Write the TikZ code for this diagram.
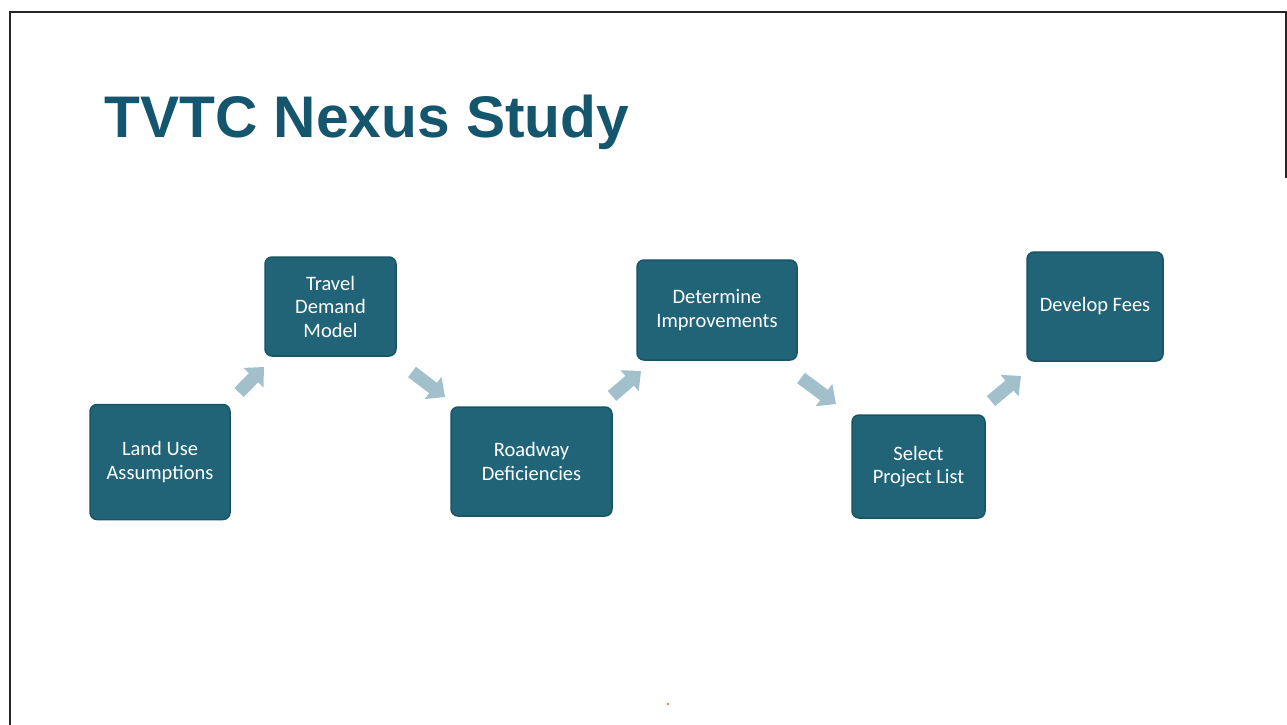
\documentclass[tikz,border=0pt]{standalone}
\usepackage{fontspec}
\setmainfont{Liberation Sans}
\newfontfamily\boxfont{Carlito}
\usetikzlibrary{arrows.meta,calc}
\definecolor{titleblue}{HTML}{14566E}
\definecolor{boxfill}{HTML}{216478}
\definecolor{boxedge}{HTML}{1A5366}
\definecolor{arrowcol}{HTML}{A2C0CB}
\definecolor{dotcol}{HTML}{C08A60}
\tikzset{
  stepbox/.style={draw=boxedge, line width=1.5pt, fill=boxfill, rounded corners=7pt,
    inner sep=0pt, outer sep=0pt, align=center, text=white,
    font=\boxfont\fontsize{20.5}{23.5}\selectfont},
  flowarrow/.style={draw=arrowcol, line width=13pt, -{Triangle[width=27pt,length=15pt]}},
  framerule/.style={draw=black!85, line width=2pt}
}
\begin{document}
\begin{tikzpicture}[x=1pt,y=-1pt]
\useasboundingbox (0,0) rectangle (1287,725);
% frame
\coordinate (fA) at (10,725);
\coordinate (fB) at (10,12);
\coordinate (fC) at (1286,12);
\coordinate (fD) at (1286,178);
\draw[framerule] (fA) -- (fB) -- (fC) -- (fD);
% title
\node[anchor=base west, inner sep=0pt, text=titleblue, font=\fontsize{58.7}{62}\selectfont\bfseries] (title) at (104,137) {TVTC Nexus Study};
% boxes
\node[stepbox, minimum width=140pt, minimum height=115pt] (b1) at (160,462) {Land Use\\Assumptions};
\node[stepbox, minimum width=131pt, minimum height=99pt] (b2) at (330.5,306.5) {Travel\\Demand\\Model};
\node[stepbox, minimum width=161pt, minimum height=109pt] (b3) at (531.5,461.5) {Roadway\\Deficiencies};
\node[stepbox, minimum width=160pt, minimum height=100pt] (b4) at (717,310) {Determine\\Improvements};
\node[stepbox, minimum width=133pt, minimum height=103pt] (b5) at (918.5,466.5) {Select\\Project List};
\node[stepbox, minimum width=136pt, minimum height=109pt] (b6) at (1095,306.5) {Develop Fees};
% arrows
\draw[flowarrow] ($(b1.north east)+(9,-12)$) -- ($(b2.south west)+(-1,11)$);
\draw[flowarrow] ($(b2.south east)+(16,16)$) -- ($(b3.north west)+(-6,-10)$);
\draw[flowarrow] ($(b3.north east)+(0,-11)$) -- ($(b4.south west)+(4,11)$);
\draw[flowarrow] ($(b4.south east)+(4,18)$) -- ($(b5.north west)+(-16,-11)$);
\draw[flowarrow] ($(b5.north east)+(6,-14)$) -- ($(b6.south west)+(-6,15)$);
% scan speck
\fill[dotcol] (668,704) circle (1.3pt);
\end{tikzpicture}
\end{document}
